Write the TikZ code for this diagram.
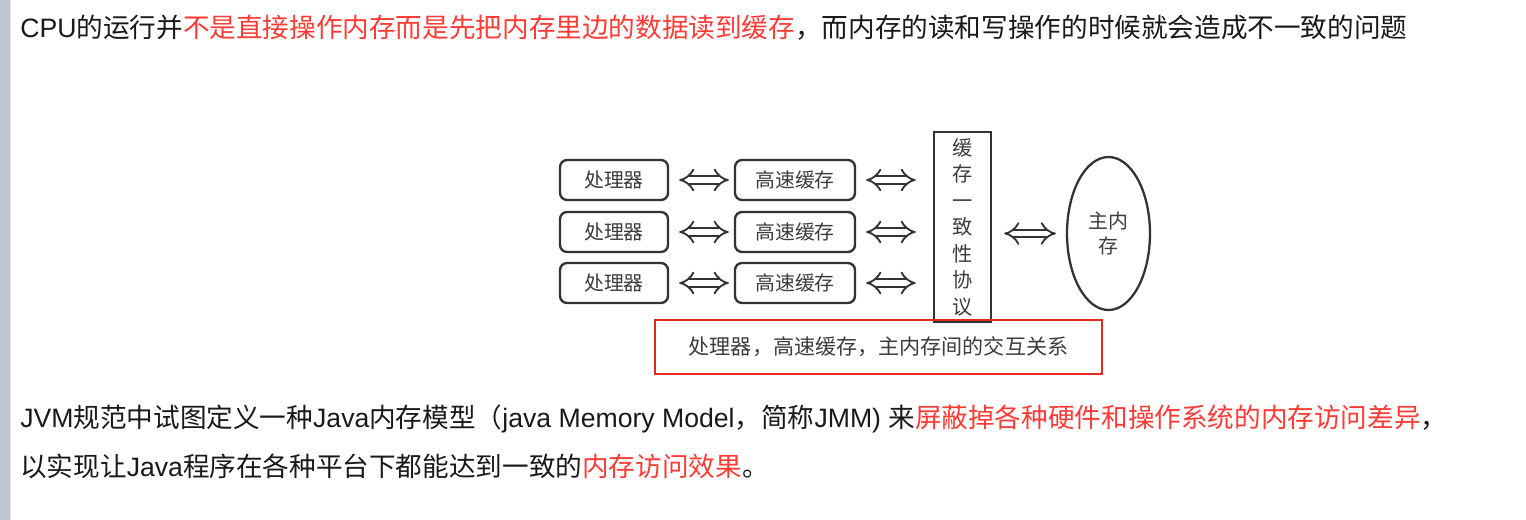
\documentclass[tikz,border=0pt]{standalone}
\usepackage{fontspec}
\setmainfont{Noto Sans CJK SC}
\newfontfamily\arialfont{Liberation Sans}
\usetikzlibrary{shapes.geometric,arrows.meta,positioning}
\definecolor{txtred}{HTML}{FF3B36}
\definecolor{framered}{HTML}{E2291F}
\definecolor{boxgray}{HTML}{333333}
\definecolor{labelgray}{HTML}{3C3C3C}
\definecolor{bargray}{HTML}{BCC6D2}

\begin{document}
\begin{tikzpicture}[x=0.02cm, y=-0.02cm,
    para/.style={anchor=base west, inner sep=0, font=\fontsize{15.15}{18}\selectfont, text=black!90},
    unit/.style={draw=boxgray, line width=1.35pt, rounded corners=4pt, minimum height=0.8cm,
                 font=\fontsize{11.3}{13}\selectfont, text=labelgray},
    proto/.style={draw=boxgray, line width=1.4pt, minimum width=1.14cm, minimum height=3.8cm,
                  align=center, inner sep=0, font=\fontsize{11.5}{15.1}\selectfont, text=labelgray},
    mem/.style={ellipse, draw=boxgray, line width=1.3pt, minimum width=1.66cm, minimum height=3.06cm,
                inner sep=0, align=center, font=\fontsize{11.3}{14.2}\selectfont, text=labelgray},
    dbl/.style={double, double distance=3.4pt, line width=1.05pt, draw=boxgray, {Implies[scale=2.5]}-{Implies[scale=2.5]}},
    frame/.style={draw=framered, line width=1.1pt, minimum width=8.94cm, minimum height=1.08cm,
                  font=\fontsize{12}{14}\selectfont, text=labelgray}
]
\useasboundingbox (0,0) rectangle (1526,520);

% --- page edge ---
\fill[bargray] (0,0) rectangle (10,520);
\draw[bargray!45, line width=0.6pt] (10.5,0) -- (10.5,520);

% --- text above ---
\node[para] (intro) at (20,38) {{\arialfont CPU}的运行并\textcolor{txtred}{不是直接操作内存而是先把内存里边的数据读到缓存}，而内存的读和写操作的时候就会造成不一致的问题};

% --- processors and caches ---
\node[unit, minimum width=2.16cm] (cpu1) at (614,180) {处理器};
\node[unit, minimum width=2.16cm] (cpu2) at (614,232) {处理器};
\node[unit, minimum width=2.16cm] (cpu3) at (614,283) {处理器};
\node[unit, minimum width=2.4cm] (cache1) at (795,180) {高速缓存};
\node[unit, minimum width=2.4cm] (cache2) at (795,232) {高速缓存};
\node[unit, minimum width=2.4cm] (cache3) at (795,283) {高速缓存};

% --- protocol and main memory ---
\node[proto] (coh) at (962.5,227) {缓\\存\\一\\致\\性\\协\\议};
\node[mem] (ram) at (1108.5,233.5) {主内\\存};

% --- links ---
\draw[dbl, shorten <=0.2cm, shorten >=0.1cm] (cpu1) -- (cache1);
\draw[dbl, shorten <=0.2cm, shorten >=0.1cm] (cpu2) -- (cache2);
\draw[dbl, shorten <=0.2cm, shorten >=0.1cm] (cpu3) -- (cache3);
\draw[dbl, shorten <=0.2cm, shorten >=0.34cm] (cache1.east) -- (cache1 -| coh.west);
\draw[dbl, shorten <=0.2cm, shorten >=0.34cm] (cache2.east) -- (cache2 -| coh.west);
\draw[dbl, shorten <=0.2cm, shorten >=0.34cm] (cache3.east) -- (cache3 -| coh.west);
\draw[dbl, shorten <=0.24cm, shorten >=0.2cm] (ram -| coh.east) -- (ram.west);

% --- caption ---
\node[frame] (caption) at (878.5,347) {处理器，高速缓存，主内存间的交互关系};

% --- text below ---
\node[para] (jmm) at (20,428) {{\arialfont JVM}规范中试图定义一种{\arialfont Java}内存模型（{\arialfont java Memory Model}，简称{\arialfont JMM) }来\textcolor{txtred}{屏蔽掉各种硬件和操作系统的内存访问差异}，};
\node[para] (goal) at (20,477) {以实现让{\arialfont Java}程序在各种平台下都能达到一致的\textcolor{txtred}{内存访问效果}。};

\end{tikzpicture}
\end{document}
